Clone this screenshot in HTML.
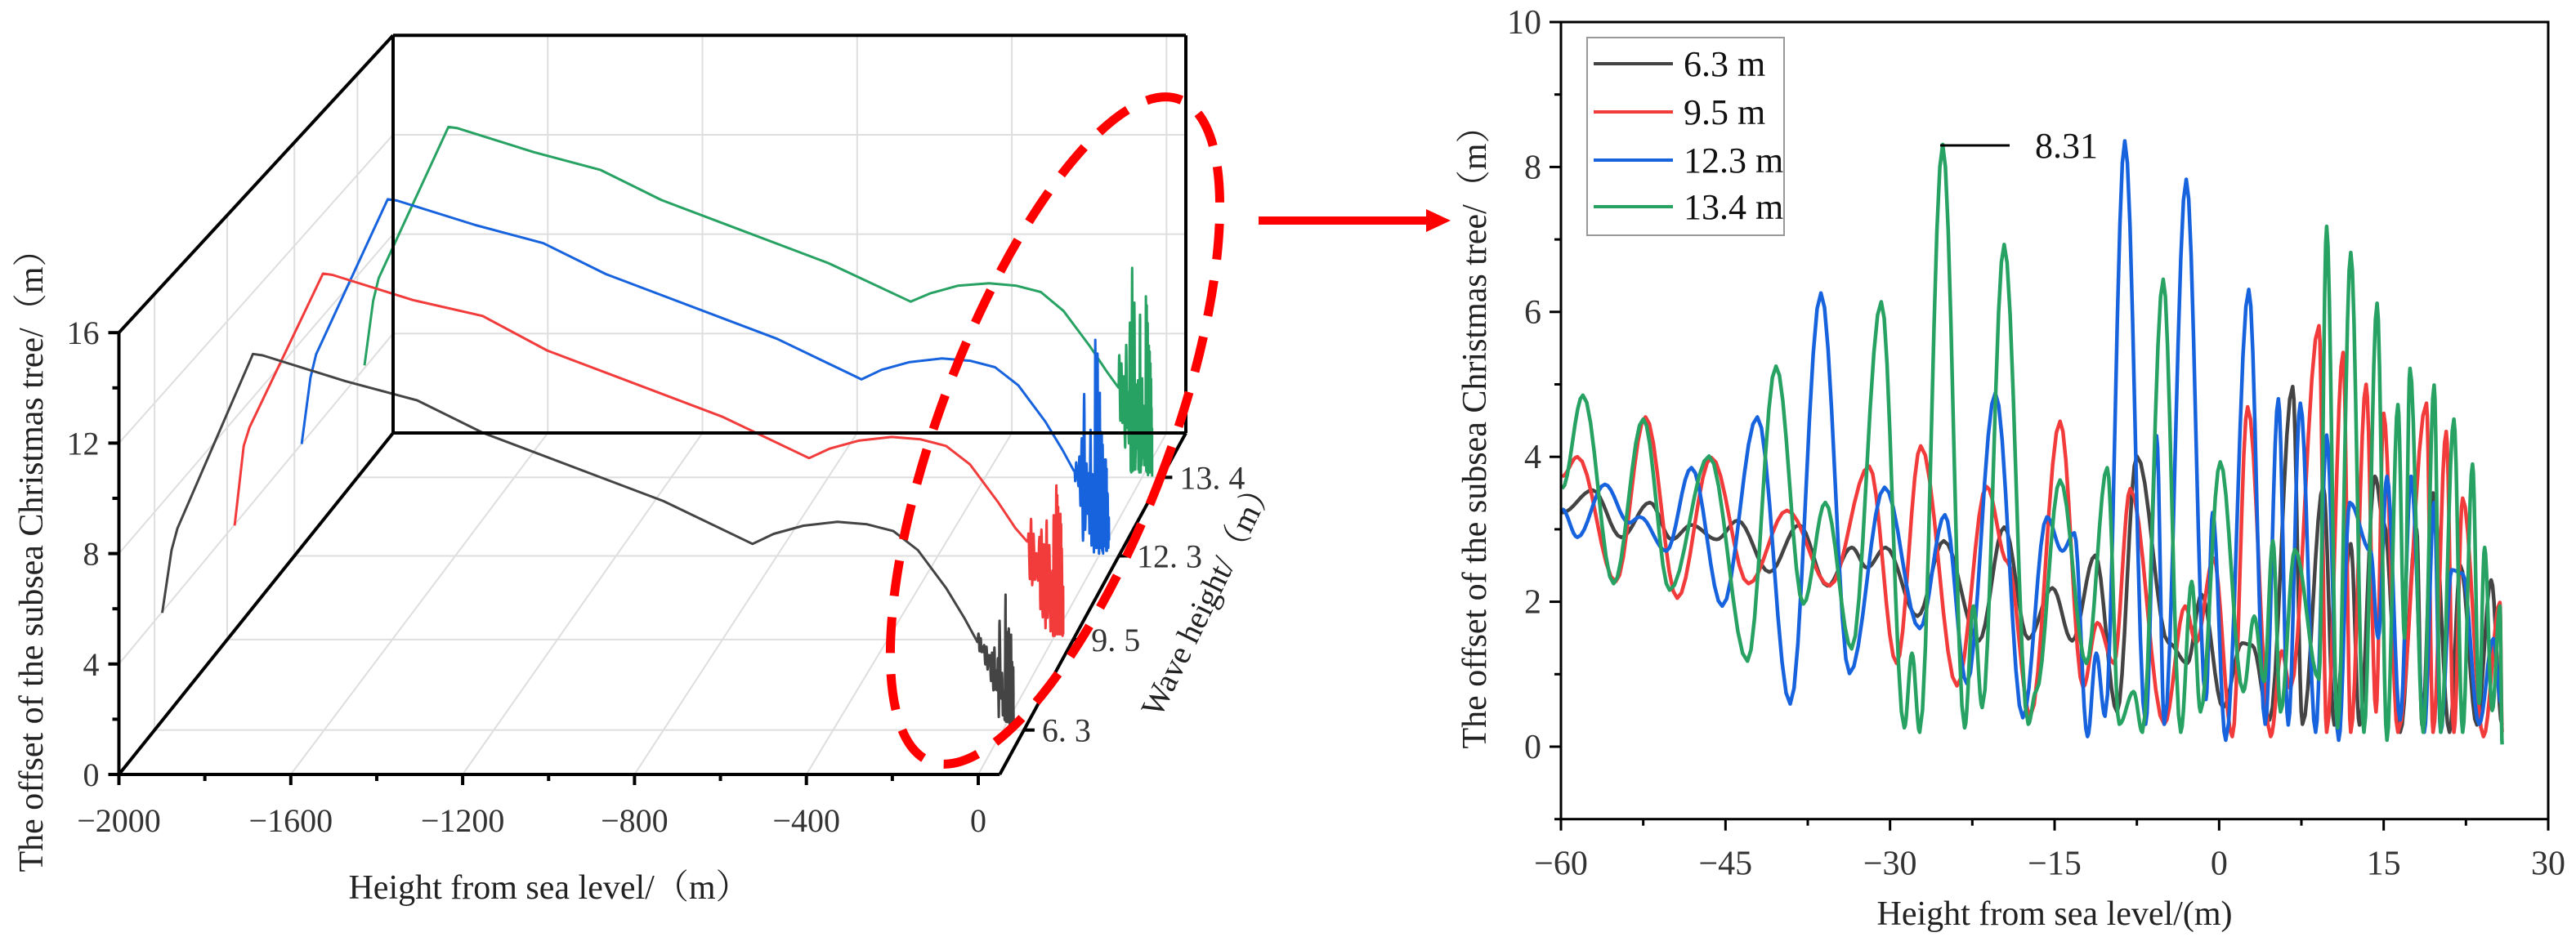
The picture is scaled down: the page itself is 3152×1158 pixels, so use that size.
<!DOCTYPE html>
<html><head><meta charset="utf-8">
<style>
html,body{margin:0;padding:0;background:#fff;}
svg{display:block;font-family:"Liberation Serif","Noto Serif CJK SC",serif;}
</style></head>
<body>
<svg id="fig" width="3152" height="1158" viewBox="0 0 3152 1158" xmlns="http://www.w3.org/2000/svg">
<rect x="0" y="0" width="3152" height="1158" fill="#fff"/>
<g id="left"></g>
<g id="right"></g>
<g>
<rect x="1540" y="265" width="208" height="10" fill="#f00"/>
<polygon points="1745,256 1775,270 1745,284" fill="#f00"/>
</g>
</svg>
<script>
// ---------- LEFT 3D CHART DATA ----------
const leftXTicks = [-2000,-1600,-1200,-800,-400,0];
const leftVTicks = [0,4,8,12,16];
const depthLabels = ['6. 3','9. 5','12. 3','13. 4'];
const depthPos = [0.13,0.395,0.64,0.87];
const leftXs = [-1982,-1960,-1946,-1768,-1745,-1550,-1381,-1225,-800,-590,-540,-470,-390,-320,-258,-200,-133,-90,-62];
const leftGray = [4.3,6.6,7.4,13.8,13.75,12.8,12.1,10.9,8.4,6.83,7.2,7.5,7.64,7.55,7.3,6.6,5.2,4.1,3.3];
const leftRed = [4.3,7.3,8.0,13.8,13.75,12.8,12.2,10.9,8.4,6.84,7.2,7.5,7.64,7.55,7.3,6.6,5.2,4.2,3.7];
const leftBlue = [4.33,6.9,7.8,13.8,13.75,12.8,12.1,10.9,8.4,6.83,7.2,7.5,7.64,7.55,7.3,6.6,5.2,4.1,3.3];
const leftGreen = [4.44,7.0,7.9,13.9,13.85,12.9,12.2,11.0,8.5,6.97,7.3,7.6,7.7,7.6,7.35,6.6,5.2,4.2,3.6];

// ---------- RIGHT 2D CHART DATA (extrema) ----------
const rightXTicks = [-60,-45,-30,-15,0,15,30];
const rightYTicks = [0,2,4,6,8,10];
const legendLabels = ['6.3 m','9.5 m','12.3 m','13.4 m'];
const grayX = [-59.9,-57.1,-54.5,-51.9,-49.9,-48.1,-45.8,-43.9,-41,-38.3,-35.7,-33.5,-32.1,-30.4,-27.5,-25.1,-21.9,-19.6,-17.4,-15.2,-13.4,-11.3,-9.3,-7.5,-4.6,-2.9,-1.6,0.36,2.1,3.0,4.6,6.7,7.6,9.5,10.5,12,12.8,14.2,15,16.5,18,18.5,19.5,21,22,23.5,24.8,25.8];
const grayV = [3.23,3.54,2.89,3.37,2.86,3.06,2.86,3.12,2.41,3.06,2.22,2.75,2.47,2.75,1.8,2.84,1.46,3.03,1.49,2.19,1.46,2.64,0.48,4.01,1.43,1.15,2.1,0.54,1.43,1.4,0.37,4.97,0.31,3.6,0.3,2.8,0.3,3.73,3.1,0.2,3.0,0.3,3.5,0.2,2.5,0.3,2.3,0.3];
const redX = [-59.9,-58.5,-55,-52.3,-49.4,-46.3,-42.9,-39.4,-35.5,-31.9,-29.4,-27.2,-23.9,-21.2,-19.3,-17.2,-14.5,-12.4,-11.1,-9.6,-8.1,-5,-3.1,-2.1,-0.5,1.2,2.6,4.7,5.7,6.5,9.1,9.8,11.3,12,13.4,14.3,15,16.3,18.9,19.5,20.7,21.4,22.2,24.1,25.6,25.8];
const redV = [3.73,4.0,2.28,4.55,2.05,3.99,2.25,3.26,2.22,3.87,1.15,4.15,0.84,3.59,2.55,0.43,4.49,0.82,1.71,1.15,3.56,0.31,1.94,1.43,2.6,0.14,4.69,0.14,1.32,0.8,5.81,0.2,5.44,0.2,5.0,0.48,4.6,0.2,4.74,0.2,4.35,0.2,3.43,0.14,1.99,0.2];
const blueX = [-59.9,-58.5,-56,-53.8,-52.8,-50.4,-48.1,-45.3,-42.1,-39.1,-36.3,-33.7,-30.5,-27.3,-25,-23,-20.4,-17.9,-15.7,-14.3,-13.2,-12,-11.2,-10.4,-8.6,-6.7,-5.7,-5,-3,-1.2,-0.6,0.6,2.7,4.2,5.4,6.3,7.4,8.8,9.8,10.9,11.9,13.8,14.5,15.3,16.5,17.5,18.7,19.6,20.2,21.2,22.2,23.7,25,25.7];
const blueV = [3.28,2.89,3.62,3.09,3.17,2.7,3.85,1.94,4.55,0.59,6.26,1.01,3.58,1.63,3.2,0.87,4.88,0.4,3.17,2.7,2.95,0.14,1.29,0.42,8.36,0.31,4.29,0.31,7.83,0.65,3.23,0.09,6.31,0.31,4.8,0.3,4.74,0.2,4.3,0.09,3.37,2.7,1.5,3.73,0.37,3.73,0.2,3.37,0.2,2.44,2.39,0.31,1.49,0.6];
const greenX = [-59.9,-58,-55.2,-52.5,-50.1,-46.5,-43,-40.4,-37.9,-35.9,-33.5,-30.8,-28.7,-28,-27.3,-25.2,-23.2,-22.4,-21.6,-19.6,-17.4,-16.7,-14.5,-12.1,-10.2,-9.1,-7.8,-7,-5.1,-3.5,-2.5,-1.7,0.1,2.2,3.2,4.1,4.9,5.6,6.9,9.1,9.8,10.8,12,13.2,14.4,15.3,16.3,16.9,17.4,18.6,19.6,20.2,21.4,22.2,23.1,23.7,24.2,24.9,25.6,25.8];
const greenV = [3.56,4.85,2.25,4.52,2.16,4.01,1.18,5.25,1.97,3.37,1.35,6.14,0.26,1.29,0.2,8.31,0.26,1.94,0.54,6.93,0.31,0.76,3.68,1.15,3.85,0.31,0.76,0.2,6.45,0.2,2.28,0.48,3.93,0.76,1.8,0.9,2.84,0.48,2.72,0.93,7.18,0.26,6.82,0.2,6.12,0.09,4.72,1.5,5.22,0.2,4.99,0.2,4.52,0.2,3.9,0.6,2.75,0.5,1.94,0.03];

const C = {gray:'#444444', red:'#f23b3b', blue:'#1663dd', green:'#27a263'};
const NS = 'http://www.w3.org/2000/svg';
function mk(tag, attrs, parent){const e=document.createElementNS(NS,tag);for(const k in attrs)e.setAttribute(k,attrs[k]);parent.appendChild(e);return e;}

// cosine interpolation between extrema for smooth oscillations
function smoothPts(xs, vs){
  const out=[];
  for(let i=0;i<xs.length-1;i++){
    const n=8;
    for(let j=0;j<n;j++){const u=j/n;const w=(1-Math.cos(Math.PI*u))/2;out.push([xs[i]+(xs[i+1]-xs[i])*u, vs[i]+(vs[i+1]-vs[i])*w]);}
  }
  out.push([xs[xs.length-1],vs[vs.length-1]]);
  return out;
}

// ---------- LEFT CHART ----------
const L = document.getElementById('left');
function proj(x,v,t){
  const s=1-0.1*t, X0=145.5+335.5*t, Y0=948-418*t;
  return [X0+(x+2000)/2000*1051.5*s, Y0-v*33.8*s];
}
const XMAX=50;
const grid = mk('g',{},L);


function gl(a,b){mk('line',{x1:a[0],y1:a[1],x2:b[0],y2:b[1],stroke:'#dedede','stroke-width':2},grid);}
leftXTicks.slice(1).forEach(x=>{gl(proj(x,0,1),proj(x,16,1));gl(proj(x,0,0),proj(x,0,1));});
leftVTicks.slice(1,4).forEach(v=>{gl(proj(-2000,v,1),proj(XMAX,v,1));gl(proj(-2000,v,0),proj(-2000,v,1));});
depthPos.forEach(t=>{gl(proj(-2000,0,t),proj(XMAX,0,t));gl(proj(-2000,0,t),proj(-2000,16,t));});

// series (back to front)
const leftSeries=[['green',leftGreen,greenX,greenV,3],['blue',leftBlue,blueX,blueV,2],['red',leftRed,redX,redV,1],['gray',leftGray,grayX,grayV,0]];
leftSeries.forEach(([name,vals,rx,rv,di])=>{
  const t=depthPos[di];
  const pts=leftXs.map((x,i)=>[x,vals[i]]).concat(smoothPts(rx,rv));
  const d=pts.map((p,i)=>{const q=proj(p[0],p[1],t);return (i?'L':'M')+q[0].toFixed(1)+','+q[1].toFixed(1);}).join('');
  const p=mk('path',{d:d,fill:'none',stroke:C[name],'stroke-width':3,'stroke-linejoin':'round'},L);
  
  
});

// frame
const fr=mk('g',{stroke:'#000','stroke-width':4,fill:'none'},L);


function fl(a,b){mk('line',{x1:a[0],y1:a[1],x2:b[0],y2:b[1]},fr);}
fl(proj(-2000,0,0),proj(-2000,16,0));
fl(proj(-2000,0,0),proj(XMAX,0,0));
fl(proj(-2000,16,0),proj(-2000,16,1));
fl(proj(-2000,0,0),proj(-2000,0,1));
fl(proj(-2000,0,1),proj(-2000,16,1));
fl(proj(-2000,16,1),proj(XMAX,16,1));
fl(proj(-2000,0,1),proj(XMAX,0,1));
fl(proj(XMAX,0,1),proj(XMAX,16,1));
fl(proj(XMAX,0,0),proj(XMAX,0,1));
// ticks & labels
for(let v=0;v<=16;v+=2){const p=proj(-2000,v,0);mk('line',{x1:p[0],y1:p[1],x2:p[0]-(v%4?8:13),y2:p[1]},fr);}
leftVTicks.forEach(v=>{const p=proj(-2000,v,0);const tx=mk('text',{x:p[0]-24,y:p[1]+14,'font-size':40,'text-anchor':'end',fill:'#333'},L);tx.textContent=v;});
for(let x=-2000;x<=0;x+=200){const p=proj(x,0,0);mk('line',{x1:p[0],y1:p[1],x2:p[0],y2:p[1]+(x%400?8:13)},fr);}
leftXTicks.forEach(x=>{const p=proj(x,0,0);const tx=mk('text',{x:p[0],y:p[1]+70,'font-size':40,'text-anchor':'middle',fill:'#333'},L);tx.textContent=(x<0?'\u2212':'')+Math.abs(x);});
depthPos.forEach((t,i)=>{const p=proj(XMAX,0,t);mk('line',{x1:p[0],y1:p[1],x2:p[0]+13,y2:p[1]},fr);const tx=mk('text',{x:p[0]+22,y:p[1]+14,'font-size':40,fill:'#333'},L);tx.textContent=depthLabels[i];});
</script>
<script>
// titles & ellipse for left chart
(function(){
const L=document.getElementById('left');const NS='http://www.w3.org/2000/svg';
function mk(tag,a,p){const e=document.createElementNS(NS,tag);for(const k in a)e.setAttribute(k,a[k]);p.appendChild(e);return e;}
let t=mk('text',{x:0,y:0,'font-size':42,'text-anchor':'middle',fill:'#222',transform:'translate(52,676) rotate(-90)'},L);
t.textContent='The offset of the subsea Christmas tree/（m）';


t=mk('text',{x:672,y:1100,'font-size':42,'text-anchor':'middle',fill:'#222'},L);
t.textContent='Height from sea level/（m）';


t=mk('text',{x:0,y:0,'font-size':40,'text-anchor':'middle',fill:'#222',transform:'translate(1490,735) rotate(-64)'},L);
t.textContent='Wave height/（m）';


const e=mk('ellipse',{cx:1291,cy:527,rx:141,ry:433,fill:'none',stroke:'#f00','stroke-width':11,'stroke-dasharray':'44 26',transform:'rotate(20.6 1291 527)'},L);


})();
</script>
<script>
// ---------- RIGHT CHART ----------
(function(){
const R=document.getElementById('right');
function mk(tag,a,p){const e=document.createElementNS(NS,tag);for(const k in a)e.setAttribute(k,a[k]);p.appendChild(e);return e;}
const X0=1910,X1=3118,Y10=27,Y0=914;
const rx=x=>X0+(x+60)*(X1-X0)/90;
const ry=v=>Y0-v*(Y0-Y10)/10;
const clip=mk('clipPath',{id:'rclip'},R);mk('rect',{x:X0,y:Y10,width:X1-X0,height:ry(-1)-Y10},clip);
const series=[['gray',grayX,grayV],['red',redX,redV],['blue',blueX,blueV],['green',greenX,greenV]];
const sg=mk('g',{'clip-path':'url(#rclip)'},R);
series.forEach(([name,xs,vs])=>{
  const pts=smoothPts(xs,vs);
  const d=pts.map((p,i)=>(i?'L':'M')+rx(p[0]).toFixed(1)+','+ry(p[1]).toFixed(1)).join('');
  const p=mk('path',{d:d,fill:'none',stroke:C[name],'stroke-width':4.5,'stroke-linejoin':'round'},sg);
  
  
});
const ax=mk('g',{stroke:'#000','stroke-width':3,fill:'none'},R);


mk('rect',{x:X0,y:Y10,width:X1-X0,height:ry(-1)-Y10},ax);
const YB=ry(-1);
for(let x=-60;x<=30;x+=7.5){mk('line',{x1:rx(x),y1:YB,x2:rx(x),y2:YB+((x%15)?8:14)},ax);}
for(let v=-1;v<=10;v+=1){mk('line',{x1:X0,y1:ry(v),x2:X0-((v%2)?8:14),y2:ry(v)},ax);}
rightXTicks.forEach(x=>{const t=mk('text',{x:rx(x),y:YB+68,'font-size':42,'text-anchor':'middle',fill:'#333'},R);t.textContent=(x<0?'\u2212':'')+Math.abs(x);});
rightYTicks.forEach(v=>{const t=mk('text',{x:X0-24,y:ry(v)+14,'font-size':42,'text-anchor':'end',fill:'#333'},R);t.textContent=v;});
let t=mk('text',{x:2514,y:1132,'font-size':42,'text-anchor':'middle',fill:'#222'},R);
t.textContent='Height from sea level/(m)';


t=mk('text',{x:0,y:0,'font-size':42,'text-anchor':'middle',fill:'#222',transform:'translate(1818,525) rotate(-90)'},R);
t.textContent='The offset of the subsea Christmas tree/（m）';


// annotation
const an=mk('g',{},R);


mk('line',{x1:2374,y1:178,x2:2459,y2:178,stroke:'#000','stroke-width':3},an);
t=mk('text',{x:2490,y:193,'font-size':44,fill:'#111'},an);t.textContent='8.31';
// legend
const lg=mk('g',{},R);


mk('rect',{x:1942,y:46,width:241,height:242,fill:'#fff',stroke:'#999','stroke-width':2},lg);
const ly=[78,137,196,253];const cols=['gray','red','blue','green'];
legendLabels.forEach((lab,i)=>{
  const it=mk('g',{},lg);
  
  
  mk('line',{x1:1950,y1:ly[i],x2:2047,y2:ly[i],stroke:C[cols[i]],'stroke-width':4},it);
  const tx=mk('text',{x:2060,y:ly[i]+15,'font-size':44,fill:'#111'},it);tx.textContent=lab;
});
})();
</script>
</body></html>
